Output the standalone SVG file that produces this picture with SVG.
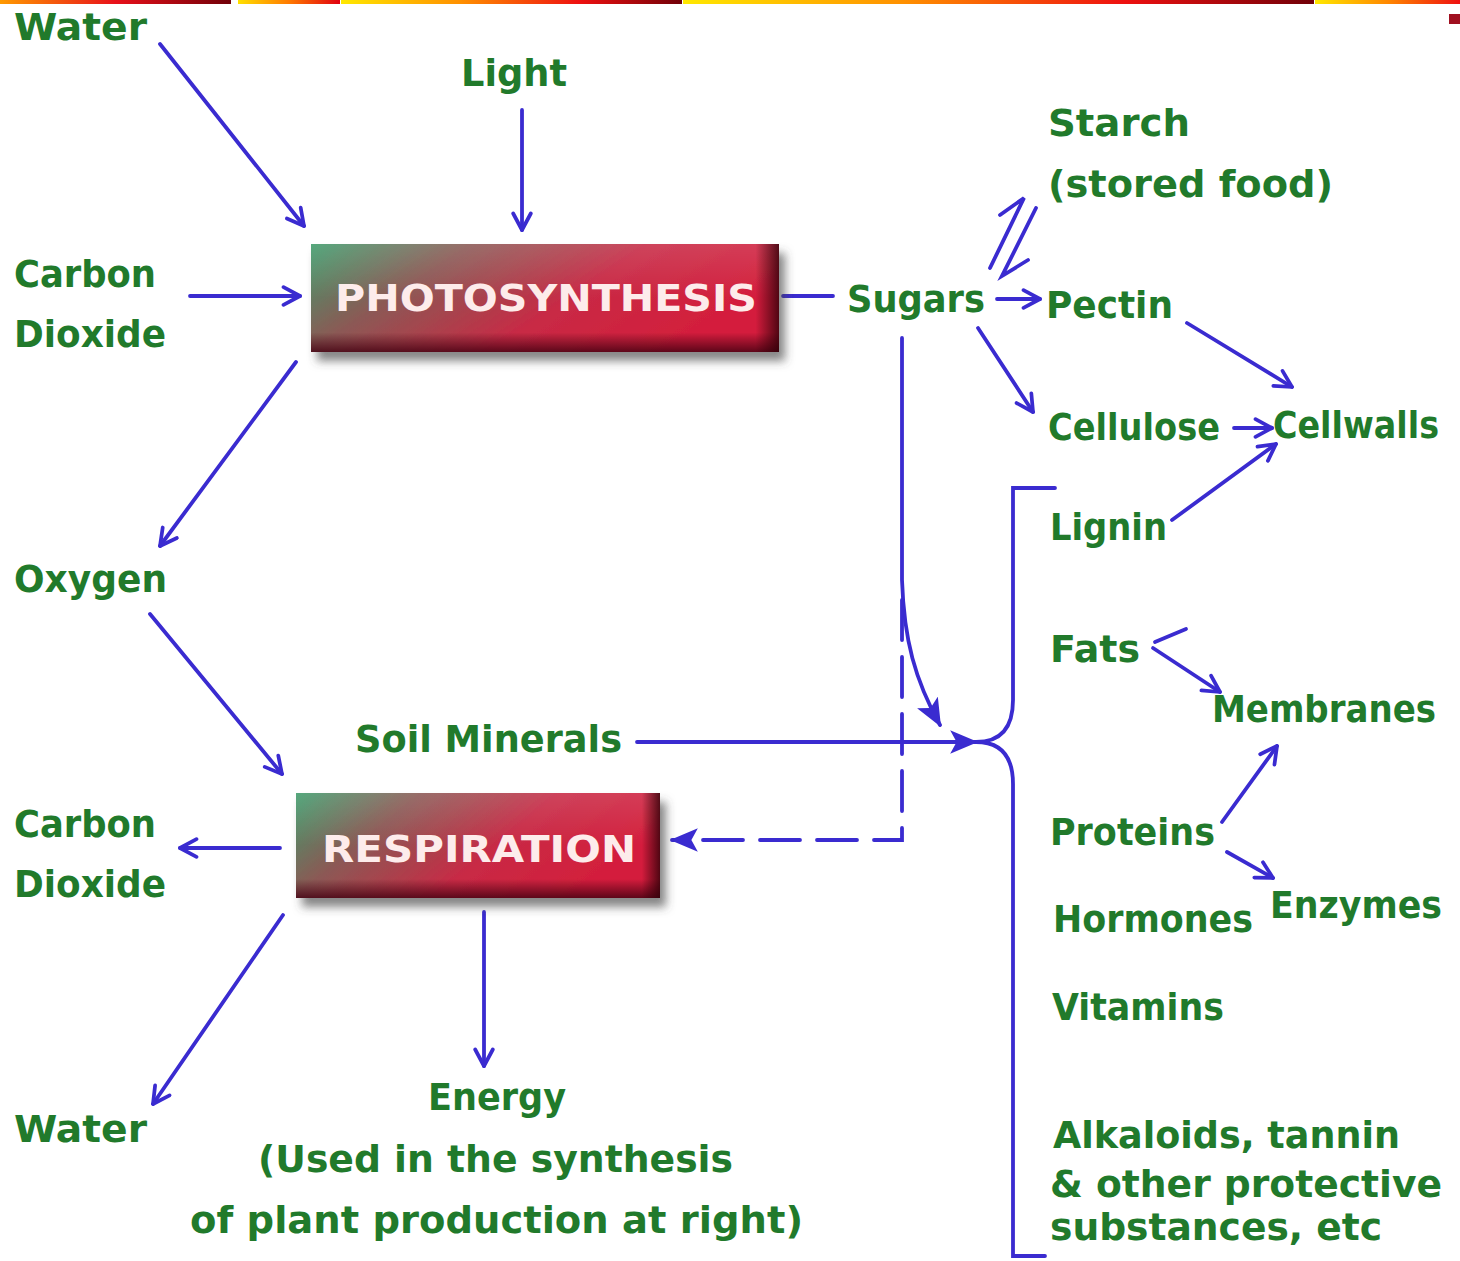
<svg xmlns="http://www.w3.org/2000/svg" width="1460" height="1261" viewBox="0 0 1460 1261">
<style>
.t{font-family:"DejaVu Sans","Liberation Sans",sans-serif;font-weight:bold;font-size:38px;fill:#217a2b}
.bt{font-family:"DejaVu Sans","Liberation Sans",sans-serif;font-weight:bold;font-size:38px;fill:#fdeceb}
.c{stroke:#3a2bd0;stroke-width:3.8;fill:none;stroke-linecap:round}
.o{marker-end:url(#open)}
.f{marker-end:url(#fill)}
</style>
<defs>
<marker id="open" viewBox="0 0 20 20" refX="18" refY="10" markerWidth="22" markerHeight="22" markerUnits="userSpaceOnUse" orient="auto">
<path d="M3,2 L18,10 L3,18" fill="none" stroke="#3a2bd0" stroke-width="3.4" stroke-linecap="round" stroke-linejoin="round"/>
</marker>
<marker id="fill" viewBox="0 0 26 22" refX="24" refY="11" markerWidth="28" markerHeight="24" markerUnits="userSpaceOnUse" orient="auto">
<path d="M0,0 L26,11 L0,22 L6,11 z" fill="#3a2bd0"/>
</marker>
<linearGradient id="boxH" x1="0" y1="0" x2="1" y2="0.35">
<stop offset="0" stop-color="#3f9c6c"/>
<stop offset="0.3" stop-color="#8a5a55"/>
<stop offset="0.65" stop-color="#c82a45"/>
<stop offset="1" stop-color="#d41e3c"/>
</linearGradient>
<linearGradient id="boxV" x1="0" y1="0" x2="0" y2="1">
<stop offset="0" stop-color="#ffffff" stop-opacity="0.12"/>
<stop offset="0.5" stop-color="#ffffff" stop-opacity="0"/>
<stop offset="0.82" stop-color="#400010" stop-opacity="0"/>
<stop offset="1" stop-color="#400010" stop-opacity="0.8"/>
</linearGradient>
<linearGradient id="boxR" x1="0" y1="0" x2="1" y2="0">
<stop offset="0" stop-color="#300008" stop-opacity="0"/>
<stop offset="0.95" stop-color="#300008" stop-opacity="0"/>
<stop offset="1" stop-color="#300008" stop-opacity="0.8"/>
</linearGradient>
<filter id="sh" x="-10%" y="-20%" width="130%" height="150%">
<feDropShadow dx="6" dy="9" stdDeviation="5" flood-color="#444" flood-opacity="0.65"/>
</filter>
<linearGradient id="g1" x1="0" y1="0" x2="1" y2="0"><stop offset="0" stop-color="#ff9a00"/><stop offset="0.5" stop-color="#e8101a"/><stop offset="1" stop-color="#700008"/></linearGradient>
<linearGradient id="g2" x1="0" y1="0" x2="1" y2="0"><stop offset="0" stop-color="#ffe000"/><stop offset="0.5" stop-color="#ff7a00"/><stop offset="1" stop-color="#e00010"/></linearGradient>
<linearGradient id="g3" x1="0" y1="0" x2="1" y2="0"><stop offset="0" stop-color="#ffe800"/><stop offset="0.35" stop-color="#ff9000"/><stop offset="0.7" stop-color="#ee1010"/><stop offset="1" stop-color="#700008"/></linearGradient>
<linearGradient id="g4" x1="0" y1="0" x2="1" y2="0"><stop offset="0" stop-color="#ffe800"/><stop offset="0.5" stop-color="#ff8800"/><stop offset="1" stop-color="#ee1010"/></linearGradient>
</defs>
<rect width="1460" height="1261" fill="#ffffff"/>
<g id="topbar">
<rect x="0" y="0" width="231" height="4" fill="url(#g1)"/>
<rect x="238" y="0" width="102" height="4" fill="url(#g2)"/>
<rect x="341" y="0" width="341" height="4" fill="url(#g3)"/>
<rect x="683" y="0" width="631" height="4" fill="url(#g3)"/>
<rect x="1315" y="0" width="145" height="4" fill="url(#g4)"/>
<rect x="1449" y="14" width="11" height="10" fill="#a01020"/>
</g>
<g id="connectors">
<line class="c o" x1="160" y1="44" x2="304" y2="226"/>
<line class="c o" x1="522" y1="110" x2="522" y2="230"/>
<line class="c o" x1="190" y1="296" x2="300" y2="296"/>
<line class="c" x1="783" y1="296" x2="833" y2="296"/>
<line class="c o" x1="296" y1="362" x2="160" y2="546"/>
<line class="c o" x1="150" y1="614" x2="282" y2="774"/>
<line class="c o" x1="280" y1="848" x2="180" y2="848"/>
<line class="c o" x1="283" y1="915" x2="153" y2="1104"/>
<line class="c o" x1="484" y1="912" x2="484" y2="1066"/>
<path class="c" d="M990,268 L1024,198 L1000,215"/>
<path class="c" d="M1036,208 L1002,276 L1028,260"/>
<line class="c o" x1="997" y1="299" x2="1040" y2="299"/>
<line class="c o" x1="978" y1="328" x2="1033" y2="412"/>
<line class="c o" x1="1187" y1="323" x2="1292" y2="387"/>
<line class="c o" x1="1234" y1="428" x2="1272" y2="428"/>
<line class="c o" x1="1172" y1="520" x2="1276" y2="444"/>
<line class="c" x1="1155" y1="642" x2="1186" y2="629"/>
<line class="c o" x1="1153" y1="648" x2="1220" y2="692"/>
<line class="c o" x1="1222" y1="822" x2="1277" y2="746"/>
<line class="c o" x1="1227" y1="852" x2="1273" y2="878"/>
<path class="c f" d="M902,338 L902,580 C904,640 915,680 940,725"/>
<path class="c f" d="M902,600 L902,840 L672,840" stroke-dasharray="40,17"/>
<line class="c f" x1="637" y1="742" x2="976" y2="742"/>
<path class="c" d="M1055,488 L1013,488 L1013,700 Q1013,742 976,742 Q1013,742 1013,784 L1013,1256 L1045,1256"/>
</g>
<g id="photosynthesis">
<rect x="311" y="244" width="468" height="108" fill="url(#boxH)" filter="url(#sh)"/>
<rect x="311" y="244" width="468" height="108" fill="url(#boxV)"/>
<rect x="311" y="244" width="468" height="108" fill="url(#boxR)"/>
<text class="bt" x="335" y="311" textLength="422" lengthAdjust="spacingAndGlyphs">PHOTOSYNTHESIS</text>
</g>
<g id="respiration">
<rect x="296" y="793" width="364" height="105" fill="url(#boxH)" filter="url(#sh)"/>
<rect x="296" y="793" width="364" height="105" fill="url(#boxV)"/>
<rect x="296" y="793" width="364" height="105" fill="url(#boxR)"/>
<text class="bt" x="322" y="862" textLength="314" lengthAdjust="spacingAndGlyphs">RESPIRATION</text>
</g>
<g id="water-in"><text class="t" x="14" y="40" textLength="133" lengthAdjust="spacingAndGlyphs">Water</text></g>
<g id="light"><text class="t" x="461" y="86" textLength="106" lengthAdjust="spacingAndGlyphs">Light</text></g>
<g id="co2-in"><text class="t" x="14" y="287" textLength="142" lengthAdjust="spacingAndGlyphs">Carbon</text><text class="t" x="14" y="347" textLength="152" lengthAdjust="spacingAndGlyphs">Dioxide</text></g>
<g id="sugars"><text class="t" x="847" y="312" textLength="138" lengthAdjust="spacingAndGlyphs">Sugars</text></g>
<g id="starch"><text class="t" x="1048" y="136" textLength="142" lengthAdjust="spacingAndGlyphs">Starch</text><text class="t" x="1048" y="197" textLength="285" lengthAdjust="spacingAndGlyphs">(stored food)</text></g>
<g id="pectin"><text class="t" x="1046" y="318" textLength="127" lengthAdjust="spacingAndGlyphs">Pectin</text></g>
<g id="cellulose"><text class="t" x="1048" y="440" textLength="172" lengthAdjust="spacingAndGlyphs">Cellulose</text></g>
<g id="cellwalls"><text class="t" x="1273" y="438" textLength="166" lengthAdjust="spacingAndGlyphs">Cellwalls</text></g>
<g id="lignin"><text class="t" x="1050" y="540" textLength="117" lengthAdjust="spacingAndGlyphs">Lignin</text></g>
<g id="oxygen"><text class="t" x="14" y="592" textLength="153" lengthAdjust="spacingAndGlyphs">Oxygen</text></g>
<g id="fats"><text class="t" x="1050" y="662" textLength="90" lengthAdjust="spacingAndGlyphs">Fats</text></g>
<g id="membranes"><text class="t" x="1212" y="722" textLength="224" lengthAdjust="spacingAndGlyphs">Membranes</text></g>
<g id="soil"><text class="t" x="355" y="752" textLength="267" lengthAdjust="spacingAndGlyphs">Soil Minerals</text></g>
<g id="co2-out"><text class="t" x="14" y="837" textLength="142" lengthAdjust="spacingAndGlyphs">Carbon</text><text class="t" x="14" y="897" textLength="152" lengthAdjust="spacingAndGlyphs">Dioxide</text></g>
<g id="proteins"><text class="t" x="1050" y="845" textLength="165" lengthAdjust="spacingAndGlyphs">Proteins</text></g>
<g id="hormones"><text class="t" x="1053" y="932" textLength="200" lengthAdjust="spacingAndGlyphs">Hormones</text></g>
<g id="enzymes"><text class="t" x="1270" y="918" textLength="172" lengthAdjust="spacingAndGlyphs">Enzymes</text></g>
<g id="vitamins"><text class="t" x="1052" y="1020" textLength="172" lengthAdjust="spacingAndGlyphs">Vitamins</text></g>
<g id="alkaloids"><text class="t" x="1053" y="1148" textLength="347" lengthAdjust="spacingAndGlyphs">Alkaloids, tannin</text><text class="t" x="1050" y="1197" textLength="392" lengthAdjust="spacingAndGlyphs">&amp; other protective</text><text class="t" x="1050" y="1240" textLength="332" lengthAdjust="spacingAndGlyphs">substances, etc</text></g>
<g id="water-out"><text class="t" x="14" y="1142" textLength="133" lengthAdjust="spacingAndGlyphs">Water</text></g>
<g id="energy"><text class="t" x="428" y="1110" textLength="138" lengthAdjust="spacingAndGlyphs">Energy</text><text class="t" x="258" y="1172" textLength="475" lengthAdjust="spacingAndGlyphs">(Used in the synthesis</text><text class="t" x="190" y="1233" textLength="613" lengthAdjust="spacingAndGlyphs">of plant production at right)</text></g>
</svg>
